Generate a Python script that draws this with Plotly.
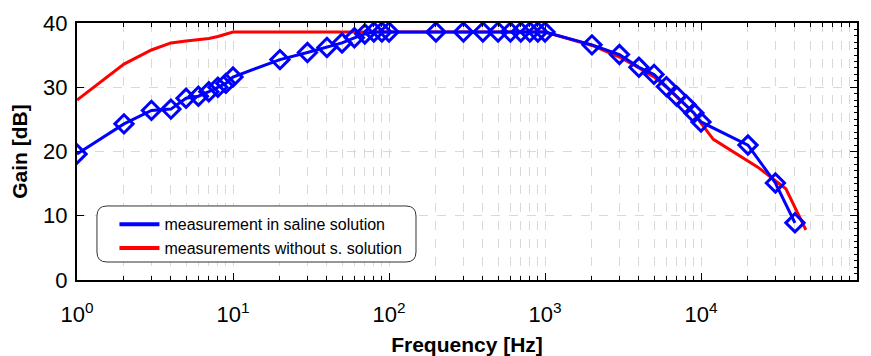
import plotly.graph_objects as go

# ---- data ----
freq_blue = [1, 2, 3, 4, 5, 6, 7, 8, 9, 10, 20, 30, 40, 50, 60, 70, 80, 90, 100,
             200, 300, 400, 500, 600, 700, 800, 900, 1000,
             2000, 3000, 4000, 5000, 6000, 7000, 8000, 9000, 10000, 20000, 30000, 40000]
gain_blue = [19.6, 24.3, 26.4, 26.6, 28.3, 28.6, 29.3, 30.0, 30.6, 31.6, 34.3, 35.4, 36.2, 36.9, 37.7, 38.3, 38.6, 38.6, 38.6,
             38.6, 38.6, 38.6, 38.6, 38.6, 38.6, 38.6, 38.6, 38.6,
             36.6, 35.1, 33.1, 32.0, 30.1, 28.6, 27.3, 26.0, 24.6, 21.0, 15.1, 8.9]

freq_red = [1, 2, 3, 4, 5, 6, 7, 8, 9, 10, 100, 1000,
            2000, 3000, 4000, 5000, 6000, 7000, 8000, 9000, 10000, 12000, 23000, 35000, 47000]
gain_red = [28.0, 33.6, 35.8, 36.9, 37.2, 37.4, 37.6, 37.9, 38.3, 38.6, 38.6, 38.6,
            36.5, 34.7, 33.0, 31.6, 30.0, 28.5, 27.2, 26.0, 24.4, 21.9, 17.6, 14.2, 7.8]

x_tickvals = [1, 10, 100, 1000, 10000, 100000]
x_ticktext = ["10<sup>0</sup>", "10<sup>1</sup>", "10<sup>2</sup>", "10<sup>3</sup>", "10<sup>4</sup>", "10<sup>5</sup>"]
x_minor = [m * 10 ** d for d in range(5) for m in range(2, 10)]
y_tickvals = [0, 10, 20, 30, 40]

names = ["measurement in saline solution", "measurements without s. solution"]

FONT = "Liberation Sans, Arial, sans-serif"
BLUE = "#0000ff"
RED = "#ff0000"
GRID = "#d9d9d9"

fig = go.Figure()
fig.add_trace(go.Scatter(x=freq_red, y=gain_red, mode="lines",
                         line=dict(color=RED, width=3), showlegend=False))
fig.add_trace(go.Scatter(x=freq_blue, y=gain_blue, mode="lines+markers",
                         line=dict(color=BLUE, width=3),
                         marker=dict(symbol="diamond-open", size=14, color=BLUE,
                                     line=dict(color=BLUE, width=3)),
                         showlegend=False))
# legend-only entries (line sample only), placed on overlay axis
fig.add_trace(go.Scatter(x=[None], y=[None], mode="lines", name=names[0],
                         line=dict(color=BLUE, width=4), yaxis="y2"))
fig.add_trace(go.Scatter(x=[None], y=[None], mode="lines", name=names[1],
                         line=dict(color=RED, width=4), yaxis="y2"))

# rounded legend box
x0, x1 = 0.0256, 0.4346
y0, y1 = 0.07, 0.288
rx, ry = 0.0128, 0.039
path = (f"M {x0+rx},{y1} L {x1-rx},{y1} Q {x1},{y1} {x1},{y1-ry} "
        f"L {x1},{y0+ry} Q {x1},{y0} {x1-rx},{y0} L {x0+rx},{y0} "
        f"Q {x0},{y0} {x0},{y0+ry} L {x0},{y1-ry} Q {x0},{y1} {x0+rx},{y1} Z")
fig.add_shape(type="path", path=path, xref="paper", yref="paper",
              fillcolor="white", line=dict(color="#333333", width=1), layer="above")

fig.update_layout(
    width=871, height=356,
    margin=dict(l=77, r=14, t=23, b=76),
    paper_bgcolor="white", plot_bgcolor="white",
    font=dict(family=FONT, color="black", size=21),
    xaxis=dict(type="log", range=[0, 5], tickmode="array",
               tickvals=x_tickvals, ticktext=x_ticktext, automargin=False,
               ticks="inside", ticklen=7, tickwidth=1, tickcolor="black",
               showline=True, linewidth=2, linecolor="black", mirror="ticks",
               showgrid=True, gridcolor=GRID, gridwidth=1, griddash="dash",
               zeroline=False, ticklabelstandoff=14,
               tickfont=dict(size=22),
               minor=dict(tickmode="array", tickvals=x_minor, ticks="inside",
                          ticklen=4, tickwidth=1, tickcolor="black",
                          showgrid=True, gridcolor=GRID, gridwidth=1, griddash="dash"),
               title=dict(text="<b>Frequency [Hz]</b>", font=dict(size=21), standoff=12)),
    yaxis=dict(range=[0, 40], tickmode="array", tickvals=y_tickvals, automargin=False,
               ticks="inside", ticklen=7, tickwidth=1, tickcolor="black",
               showline=True, linewidth=2, linecolor="black", mirror=True,
               showgrid=True, gridcolor=GRID, gridwidth=1, griddash="dash",
               zeroline=False, tickfont=dict(size=22), ticklabelstandoff=3,
               title=dict(text="<b>Gain [dB]</b>", font=dict(size=21), standoff=10)),
    yaxis2=dict(range=[0, 40], overlaying="y", side="right", tickmode="array",
                tickvals=y_tickvals, ticks="inside", ticklen=7, tickwidth=1,
                tickcolor="black", showticklabels=False, showgrid=False,
                zeroline=False, showline=False, automargin=False,
                minor=dict(dtick=1, ticks="inside", ticklen=3, tickwidth=1,
                           tickcolor="black", showgrid=False)),
    legend=dict(x=0.048, y=0.283, xanchor="left", yanchor="top",
                bgcolor="rgba(0,0,0,0)", borderwidth=0,
                font=dict(size=16, family=FONT), tracegroupgap=0,
                itemwidth=40),
)

fig.write_html("out.html")
